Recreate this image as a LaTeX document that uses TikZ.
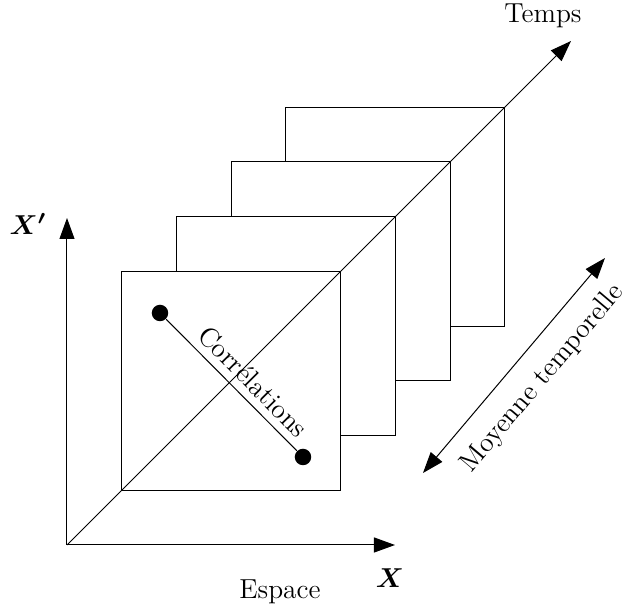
\documentclass[tikz,border=0pt]{standalone}
\usepackage{amsmath,bm}
\usetikzlibrary{arrows.meta,positioning}

\begin{document}
\begin{tikzpicture}[x=0.4pt,y=0.4pt,
  ax/.style={-{Triangle[length=8.4pt,width=6pt]},thin},
  dbl/.style={{Triangle[length=8.4pt,width=6pt]}-{Triangle[length=8.4pt,width=6pt]},thin},
  frame/.style={draw,fill=white,thin},
  corr/.style={circle,fill=black,inner sep=0pt,minimum size=6.6pt},
  lab/.style={font=\fontsize{11}{13}\selectfont,inner sep=1pt}
]
\useasboundingbox (0,0) rectangle (623,608);

\coordinate (orig) at (67,63);
\coordinate (xend) at (395,63);
\coordinate (yend) at (67,390);
\coordinate (tend) at (571,567);

% time slices, back to front
\foreach \k in {4,3,2,1}
  \draw[frame] ({67+54.7*\k},{63+54.7*\k}) rectangle +(219,219);

\draw[ax] (orig) -- (xend);
\draw[ax] (orig) -- (yend);
\draw[ax] (orig) -- (tend);

\node[corr] (pa) at (160,295) {};
\node[corr] (pb) at (303,151) {};
\draw[thin] (pa) -- node[lab,sloped,above=2pt,pos=0.57]{Corrélations} (pb);

\coordinate (mlo) at (423,135);
\coordinate (mhi) at (605,350);
\draw[dbl] (mlo) -- node[lab,sloped,below=6pt,pos=0.53]{Moyenne temporelle} (mhi);

\node[lab] (temps) at (543,592) {Temps};
\node[lab] (espace) at (280,16) {Espace};
\node[lab] (xlab) at (390,30) {$\bm{X}$};
\node[lab] (ylab) at (28,384) {$\bm{X'}$};
\end{tikzpicture}
\end{document}
